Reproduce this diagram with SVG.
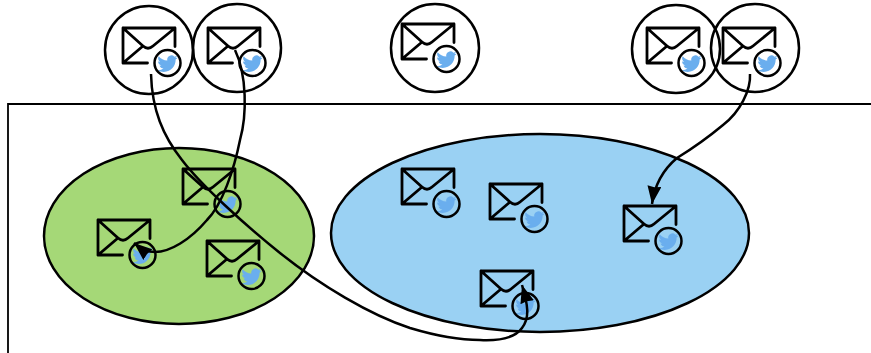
<svg xmlns="http://www.w3.org/2000/svg" width="871" height="353" viewBox="0 0 871 353">
<style>
.o{fill:none;stroke:#000;stroke-width:2.500}
.e{fill:none;stroke:#000;stroke-width:2.800;stroke-linecap:round;stroke-linejoin:round}
.b{fill:#6aaeee}
.c{fill:none;stroke:#000;stroke-width:2.500}
</style>
<defs>
<g id="icon">
<path class="e" d="M52 18.500V0H0V35H24.500M0 0L20 18Q25 22.500 30 18L52 0M0 35L20 18"/>
<path class="b" transform="translate(34.300 25.500) scale(.85)" d="M23.953 4.570a10 10 0 01-2.825.775 4.958 4.958 0 002.163-2.723c-.951.555-2.005.959-3.127 1.184a4.920 4.920 0 00-8.384 4.482C7.690 8.095 4.067 6.130 1.640 3.162a4.822 4.822 0 00-.666 2.475c0 1.710.870 3.213 2.188 4.096a4.904 4.904 0 01-2.228-.616v.060a4.923 4.923 0 003.946 4.827 4.996 4.996 0 01-2.212.085 4.936 4.936 0 004.604 3.417 9.867 9.867 0 01-6.102 2.105c-.390 0-.779-.023-1.170-.067a13.995 13.995 0 007.557 2.209c9.053 0 13.998-7.496 13.998-13.985 0-.210 0-.420-.015-.630A9.935 9.935 0 0024 4.590z"/>
<circle class="c" cx="44.500" cy="35" r="13"/>
</g>
<marker id="a" markerUnits="userSpaceOnUse" markerWidth="20" markerHeight="16" refX="18" refY="7" orient="auto"><path d="M0 0L18 7L0 14L1 7Z" fill="#000"/></marker>
</defs>
<g id="frame"><path d="M8 353V104H871" fill="none" stroke="#000" stroke-width="1.800"/></g>
<g id="group-green"><ellipse cx="179" cy="236" rx="135" ry="88" fill="#a5d877" stroke="#000" stroke-width="2.500"/></g>
<g id="group-blue"><ellipse cx="540" cy="233" rx="209" ry="99" fill="#9ad1f3" stroke="#000" stroke-width="2.500"/></g>
<g id="top1"><circle class="o" cx="149" cy="50" r="44"/><use href="#icon" x="123" y="28"/></g>
<g id="top2"><circle class="o" cx="237" cy="48" r="44"/><use href="#icon" x="208" y="28"/></g>
<g id="top3"><circle class="o" cx="435" cy="48" r="44"/><use href="#icon" x="402" y="24"/></g>
<g id="top4"><circle class="o" cx="676" cy="49" r="44"/><use href="#icon" x="647" y="28"/></g>
<g id="top5"><circle class="o" cx="755" cy="48" r="44"/><use href="#icon" x="723" y="28"/></g>
<g id="g1"><use href="#icon" x="183" y="169"/></g>
<g id="g2"><use href="#icon" x="98" y="220"/></g>
<g id="g3"><use href="#icon" x="207" y="241"/></g>
<g id="b1"><use href="#icon" x="402" y="169"/></g>
<g id="b2"><use href="#icon" x="490" y="184"/></g>
<g id="b3"><use href="#icon" x="624" y="206"/></g>
<g id="b4"><use href="#icon" x="481" y="271"/></g>
<g id="connectors" fill="none" stroke="#000" stroke-width="2.500">
<path marker-end="url(#a)" d="M151 74C152 110 163 136 182 160C200 184 245 225 280 253C320 285 370 315 410 328C440 337 460 340 480 340C500 341 515 338 522 328C530 318 528 305 522 285"/>
<path marker-end="url(#a)" d="M235 50C247 75 247 115 240 140C234 170 222 205 207 220C190 240 170 252 155 252C147 252 140 248 134 243"/>
<path marker-end="url(#a)" d="M750 74C751 90 740 112 723 125C705 140 690 150 677 158C665 168 655 182 652 204"/>
</g>
</svg>
